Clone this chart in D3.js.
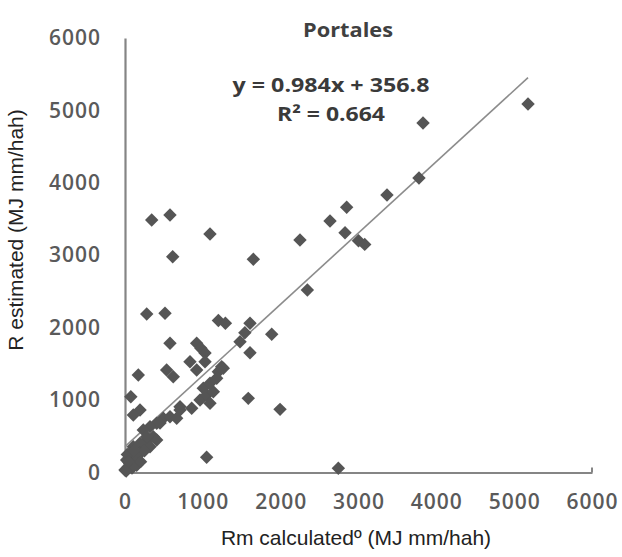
<!DOCTYPE html>
<html>
<head>
<meta charset="utf-8">
<script src="https://cdn.jsdelivr.net/npm/d3@7"></script>
<style>
  html, body { margin: 0; padding: 0; background: #fff; }
  svg { display: block; }
</style>
</head>
<body>
<svg id="chart" width="622" height="557"></svg>
<script>
// Rm calculated (x) vs R estimated (y), MJ mm/(ha h)
const rmCalculated = [
  5178, 3829, 3777, 3366, 2848, 2634, 2827, 2248, 3000, 3080,
  2343, 343, 578, 1092, 613, 1649, 279, 514, 1200, 1290,
  1606, 1540, 1478, 1885, 1606, 578, 921, 975, 1028, 835,
  921, 1028, 1242, 1199, 535, 620, 171, 75, 193, 107,
  1584, 1992, 1049, 2741, 707, 857, 964, 1049, 1135, 1006,
  1092, 1178, 1263, 492, 578, 664, 407, 321, 235, 364,
  279, 193, 107, 64, 21, 43, 0, 107, 150, 193,
  321, 407, 1092, 707, 450, 279, 60, 90, 30, 150,
  250, 120, 200, 15, 45
];
const rEstimated = [
  5088, 4826, 4066, 3832, 3662, 3473, 3311, 3210, 3200, 3150,
  2520, 3487, 3556, 3293, 2980, 2944, 2189, 2198, 2100, 2060,
  2060, 1930, 1806, 1908, 1654, 1784, 1784, 1715, 1650, 1530,
  1415, 1530, 1461, 1392, 1415, 1323, 1346, 1047, 863, 794,
  1024, 872, 210, 58, 909, 886, 1001, 1070, 1116, 1163,
  1232, 1301, 1439, 748, 771, 748, 679, 633, 587, 494,
  449, 403, 356, 265, 173, 80, 35, 173, 218, 265,
  356, 449, 956, 863, 683, 494, 120, 60, 250, 100,
  300, 300, 150, 20, 150
];
const axisTicks = [0, 1000, 2000, 3000, 4000, 5000, 6000];
const slope = 0.984;
const intercept = 356.8;
const rSquared = 0.664;

const svg = d3.select("#chart");
const x = d3.scaleLinear().domain([0, 6000]).range([125, 592]);
const y = d3.scaleLinear().domain([0, 6000]).range([472.5, 38]);

const grey = "#858585";
const labelFont = "'Open Sans', sans-serif";
const titleFont = "'Liberation Sans', Arial, sans-serif";

// axes
const xAxis = svg.append("g").attr("transform", `translate(0,${y(0)})`)
  .call(d3.axisBottom(x).tickValues(axisTicks).tickFormat(d3.format("d"))
    .tickSize(0).tickPadding(22));
const yAxis = svg.append("g").attr("transform", `translate(${x(0)},0)`)
  .call(d3.axisLeft(y).tickValues(axisTicks).tickFormat(d3.format("d"))
    .tickSize(0).tickPadding(24));
[xAxis, yAxis].forEach(g => {
  g.select(".domain").attr("stroke", grey).attr("stroke-width", 2.2);
  g.selectAll("text")
    .attr("font-family", labelFont)
    .attr("font-weight", 600)
    .attr("font-size", 21)
    .attr("letter-spacing", 1)
    .attr("fill", "#5a5a5a");
});
// end tick of the x axis
svg.append("line")
  .attr("x1", x(6000)).attr("x2", x(6000))
  .attr("y1", y(0)).attr("y2", y(0) - 5)
  .attr("stroke", grey).attr("stroke-width", 2);

// trendline across the data range
const xr = d3.extent(rmCalculated);
svg.append("line")
  .attr("x1", x(xr[0])).attr("y1", y(slope * xr[0] + intercept))
  .attr("x2", x(xr[1])).attr("y2", y(slope * xr[1] + intercept))
  .attr("stroke", "#8c8c8c").attr("stroke-width", 1.6);

// diamond markers
const diamond = d3.symbol().type(d3.symbolDiamond2).size(115);
svg.append("g").selectAll("path")
  .data(rmCalculated.map((v, i) => [v, rEstimated[i]]))
  .join("path")
  .attr("d", diamond)
  .attr("transform", d => `translate(${x(d[0])},${y(d[1])})`)
  .attr("fill", "#555555");

// title and regression annotation
svg.append("text").attr("x", 348).attr("y", 37)
  .attr("text-anchor", "middle")
  .attr("font-family", labelFont).attr("font-weight", 700).attr("font-size", 20)
  .attr("textLength", 90).attr("lengthAdjust", "spacingAndGlyphs")
  .attr("fill", "#404040").text("Portales");
const eq = svg.append("text").attr("text-anchor", "middle")
  .attr("font-family", labelFont).attr("font-weight", 700).attr("font-size", 20)
  .attr("fill", "#3a3a3a");
eq.append("tspan").attr("x", 331).attr("y", 92)
  .attr("textLength", 197).attr("lengthAdjust", "spacingAndGlyphs")
  .text(`y = ${slope}x + ${intercept}`);
eq.append("tspan").attr("x", 331).attr("y", 121)
  .attr("textLength", 108).attr("lengthAdjust", "spacingAndGlyphs")
  .text(`R² = ${rSquared}`);

// axis titles
svg.append("text").attr("x", 356).attr("y", 545)
  .attr("text-anchor", "middle")
  .attr("font-family", titleFont).attr("font-size", 21)
  .attr("fill", "#222").text("Rm calculatedº (MJ mm/hah)");
svg.append("text")
  .attr("transform", "translate(23,230) rotate(-90)")
  .attr("text-anchor", "middle")
  .attr("font-family", titleFont).attr("font-size", 21)
  .attr("fill", "#222").text("R estimated (MJ mm/hah)");
</script>
</body>
</html>
